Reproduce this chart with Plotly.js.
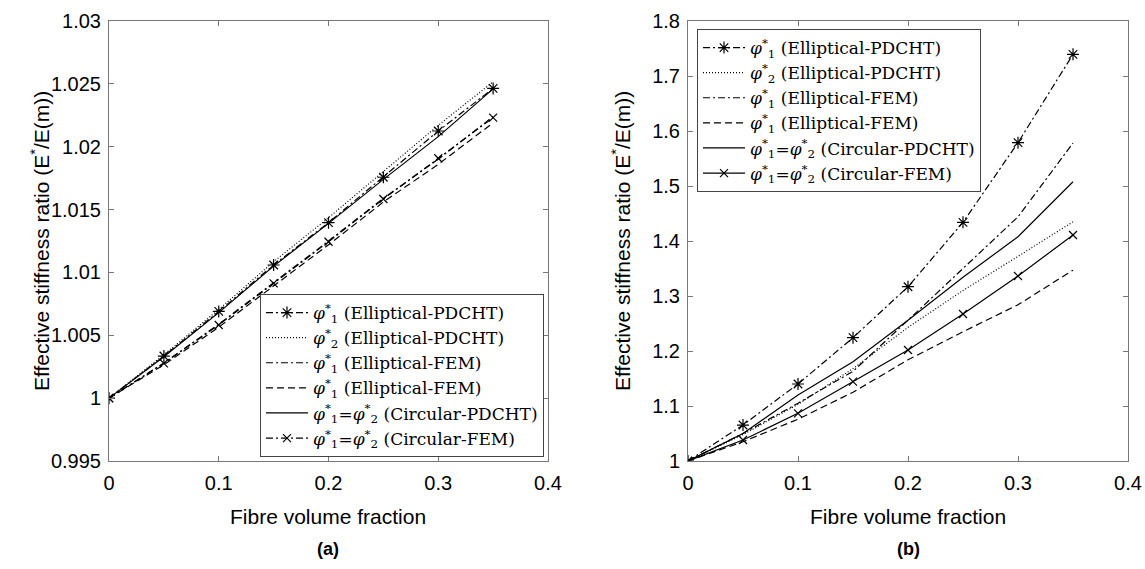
<!DOCTYPE html>
<html>
<head>
<meta charset="utf-8">
<script src="https://cdn.plot.ly/plotly-3.0.1.min.js"></script>
<style>html,body{margin:0;padding:0;background:#fff;}#chart{width:1145px;height:569px;}</style>
</head>
<body>
<div id="chart"></div>
<script>
// ---- data ----
const xVals = [0, 0.05, 0.1, 0.15, 0.2, 0.25, 0.3, 0.35];

// (a)
const a_phi1_ellPDCHT = [1, 1.00335, 1.00690, 1.01059, 1.01396, 1.01757, 1.02125, 1.02464];
const a_phi2_ellPDCHT = [1, 1.00345, 1.00705, 1.01085, 1.01435, 1.01800, 1.02170, 1.02517];
const a_phi1_ellFEM_dd = [1, 1.00280, 1.00588, 1.00920, 1.01250, 1.01590, 1.01900, 1.02240];
const a_phi1_ellFEM_d  = [1, 1.00265, 1.00565, 1.00890, 1.01220, 1.01560, 1.01860, 1.02190];
const a_circPDCHT      = [1, 1.00330, 1.00680, 1.01050, 1.01390, 1.01740, 1.02080, 1.02460];
const a_circFEM        = [1, 1.00277, 1.00582, 1.00913, 1.01244, 1.01584, 1.01908, 1.02231];

// (b)
const b_phi1_ellPDCHT = [1, 1.0654, 1.1400, 1.2242, 1.3169, 1.4340, 1.5788, 1.7394];
const b_phi2_ellPDCHT = [1, 1.0480, 1.1030, 1.1680, 1.2430, 1.3100, 1.3720, 1.4350];
const b_phi1_ellFEM_dd = [1, 1.0500, 1.1050, 1.1630, 1.2560, 1.3500, 1.4440, 1.5780];
const b_phi1_ellFEM_d  = [1, 1.0350, 1.0760, 1.1250, 1.1840, 1.2350, 1.2840, 1.3470];
const b_circPDCHT      = [1, 1.0500, 1.1200, 1.1806, 1.2560, 1.3340, 1.4078, 1.5078];
const b_circFEM        = [1, 1.0382, 1.0867, 1.1442, 1.2018, 1.2673, 1.3364, 1.4109];

const legendNames = [
  '<i>φ</i><sup>*</sup><sub>1</sub> (Elliptical-PDCHT)',
  '<i>φ</i><sup>*</sup><sub>2</sub> (Elliptical-PDCHT)',
  '<i>φ</i><sup>*</sup><sub>1</sub> (Elliptical-FEM)',
  '<i>φ</i><sup>*</sup><sub>1</sub> (Elliptical-FEM)',
  '<i>φ</i><sup>*</sup><sub>1</sub>=<i>φ</i><sup>*</sup><sub>2</sub> (Circular-PDCHT)',
  '<i>φ</i><sup>*</sup><sub>1</sub>=<i>φ</i><sup>*</sup><sub>2</sub> (Circular-FEM)'
];

const xTitle = 'Fibre volume fraction';
const yTitle = 'Effective stiffness ratio (E<sup>*</sup>/E(m))';
const panelLabels = ['<b>(a)</b>', '<b>(b)</b>'];
const xTicks = [0, 0.1, 0.2, 0.3, 0.4];
const xTickText = ['0', '0.1', '0.2', '0.3', '0.4'];
const yTicksA = [0.995, 1, 1.005, 1.01, 1.015, 1.02, 1.025, 1.03];
const yTickTextA = ['0.995', '1', '1.005', '1.01', '1.015', '1.02', '1.025', '1.03'];
const yTicksB = [1, 1.1, 1.2, 1.3, 1.4, 1.5, 1.6, 1.7, 1.8];
const yTickTextB = ['1', '1.1', '1.2', '1.3', '1.4', '1.5', '1.6', '1.7', '1.8'];

// ---- styles ----
const DD = '7px,3px,2px,3px';
const LW = 1.2;
function tr(y, name, dash, symbol, xa, ya, leg, msize) {
  const t = {
    x: xVals, y: y, name: name, type: 'scatter',
    mode: symbol ? 'lines+markers' : 'lines',
    line: {color: '#000', width: LW, dash: dash},
    xaxis: xa, yaxis: ya, legend: leg
  };
  if (symbol) t.marker = {symbol: symbol, size: msize || 9, color: '#000', line: {color: '#000', width: 1.2}};
  return t;
}

const data = [
  tr(a_phi1_ellPDCHT, legendNames[0], DD, 'asterisk-open', 'x', 'y', 'legend', 10),
  tr(a_phi2_ellPDCHT, legendNames[1], '1px,2px', null, 'x', 'y', 'legend'),
  tr(a_phi1_ellFEM_dd, legendNames[2], DD, null, 'x', 'y', 'legend'),
  tr(a_phi1_ellFEM_d, legendNames[3], '7px,4px', null, 'x', 'y', 'legend'),
  tr(a_circPDCHT, legendNames[4], 'solid', null, 'x', 'y', 'legend'),
  tr(a_circFEM, legendNames[5], DD, 'x-thin-open', 'x', 'y', 'legend', 8),

  tr(b_phi1_ellPDCHT, legendNames[0], DD, 'asterisk-open', 'x2', 'y2', 'legend2', 10),
  tr(b_phi2_ellPDCHT, legendNames[1], '1px,2px', null, 'x2', 'y2', 'legend2'),
  tr(b_phi1_ellFEM_dd, legendNames[2], DD, null, 'x2', 'y2', 'legend2'),
  tr(b_phi1_ellFEM_d, legendNames[3], '7px,4px', null, 'x2', 'y2', 'legend2'),
  tr(b_circPDCHT, legendNames[4], 'solid', null, 'x2', 'y2', 'legend2'),
  tr(b_circFEM, legendNames[5], 'solid', 'x-thin-open', 'x2', 'y2', 'legend2', 8)
];

const SANS = 'Liberation Sans, Arial, sans-serif';
const axisFont = {family: SANS, size: 20, color: '#000'};
const titleFont = {family: SANS, size: 21, color: '#000'};
function xax(domain, anchor) {
  return {
    domain: domain, anchor: anchor, range: [0, 0.4],
    tickvals: xTicks, ticktext: xTickText,
    ticks: 'inside', ticklen: 5, tickcolor: '#777', tickwidth: 1,
    showline: true, linecolor: '#777', linewidth: 1, mirror: 'ticks',
    showgrid: false, zeroline: false, tickfont: axisFont, ticklabelstandoff: 4
  };
}
function yax(domain, anchor, range, tv, tt) {
  return {
    domain: domain, anchor: anchor, range: range,
    tickvals: tv, ticktext: tt,
    ticks: 'inside', ticklen: 5, tickcolor: '#777', tickwidth: 1,
    showline: true, linecolor: '#777', linewidth: 1, mirror: 'ticks',
    showgrid: false, zeroline: false, tickfont: axisFont, ticklabelstandoff: 3
  };
}
const legFont = {family: 'DejaVu Serif, Liberation Serif, serif', size: 17, color: '#000'};
const yDom = [1 - 461/569, 1 - 21/569];
const W = 1145, H = 569;

function ann(text, xpx, ypx, font, angle) {
  return {text: text, xref: 'paper', yref: 'paper', x: xpx / W, y: 1 - ypx / H,
          xanchor: 'center', yanchor: 'middle', showarrow: false, font: font,
          textangle: angle || 0};
}

const layout = {
  width: W, height: H,
  margin: {l: 0, r: 0, t: 0, b: 0},
  paper_bgcolor: '#fff', plot_bgcolor: '#fff',
  showlegend: true,
  xaxis: xax([109/W, 548/W], 'y'),
  yaxis: yax(yDom, 'x', [0.995, 1.03], yTicksA, yTickTextA),
  xaxis2: xax([688/W, 1128/W], 'y2'),
  yaxis2: yax(yDom, 'x2', [1, 1.8], yTicksB, yTickTextB),
  legend: {
    x: 544/W, xanchor: 'right', y: 1 - 457/H, yanchor: 'bottom',
    bgcolor: '#fff', bordercolor: '#444', borderwidth: 1,
    font: legFont, tracegroupgap: 0, itemwidth: 42
  },
  legend2: {
    x: 697/W, xanchor: 'left', y: 1 - 29/H, yanchor: 'top',
    bgcolor: '#fff', bordercolor: '#444', borderwidth: 1,
    font: legFont, tracegroupgap: 0, itemwidth: 42
  },
  annotations: [
    ann(xTitle, 328, 516, titleFont),
    ann(xTitle, 908, 516, titleFont),
    ann(yTitle, 40, 241, titleFont, -90),
    ann(yTitle, 621, 241, titleFont, -90),
    ann(panelLabels[0], 328, 549, {family: SANS, size: 18, color: '#000'}),
    ann(panelLabels[1], 908, 549, {family: SANS, size: 18, color: '#000'})
  ]
};

Plotly.newPlot('chart', data, layout, {displayModeBar: false, staticPlot: true});
</script>
</body>
</html>
